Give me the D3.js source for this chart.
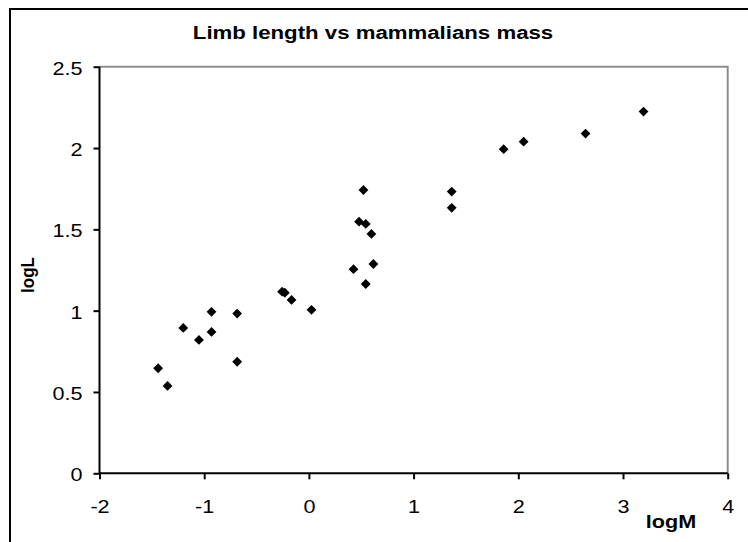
<!DOCTYPE html>
<html>
<head>
<meta charset="utf-8">
<script src="https://cdn.jsdelivr.net/npm/d3@7"></script>
<style>
  html, body { margin: 0; padding: 0; background: #fff; }
  svg { display: block; }
  text { font-family: "Liberation Sans", Arial, sans-serif; fill: #000; }
</style>
</head>
<body>
<svg id="chart" width="748" height="542"></svg>
<script>
// ---- data ----
const logM = [-1.44, -1.35, -1.20, -1.05, -0.93, -0.93, -0.685, -0.685, -0.256, -0.23, -0.166, 0.025,
              0.426, 0.479, 0.521, 0.543, 0.597, 0.616, 0.543, 1.364, 1.364, 1.86, 2.051, 2.642, 3.196];
const logL = [0.646, 0.537, 0.894, 0.820, 0.993, 0.869, 0.982, 0.686, 1.117, 1.11, 1.066, 1.005,
              1.255, 1.547, 1.742, 1.533, 1.472, 1.287, 1.164, 1.732, 1.632, 1.993, 2.039, 2.089, 2.224];
const xTicks = [-2, -1, 0, 1, 2, 3, 4];
const yTicks = [0, 0.5, 1, 1.5, 2, 2.5];
const titleText = "Limb length vs mammalians mass";
const xTitle = "logM";
const yTitle = "logL";

// ---- layout ----
const svg = d3.select("#chart");
const pLeft = 99.5, pRight = 727.7, pTop = 66.7, pBottom = 473.3;
const SX = 1.2; // horizontal text stretch seen in the reference

const x = d3.scaleLinear().domain([-2, 4]).range([pLeft, pRight]);
const y = d3.scaleLinear().domain([0, 2.5]).range([pBottom, pTop]);

// outer chart border (extends beyond the visible window on right/bottom)
svg.append("rect")
  .attr("x", 10).attr("y", 9).attr("width", 800).attr("height", 600)
  .attr("fill", "none").attr("stroke", "#000").attr("stroke-width", 2);

// plot area frame (top & right grey)
svg.append("path")
  .attr("d", `M${pLeft},${pTop}H${pRight}V${pBottom}`)
  .attr("fill", "none").attr("stroke", "#8c8c8c").attr("stroke-width", 2);

// axes
const xAxis = d3.axisBottom(x).tickValues(xTicks).tickSize(6).tickPadding(21)
  .tickFormat(d => String(d));
const yAxis = d3.axisLeft(y).tickValues(yTicks).tickSize(6).tickPadding(11)
  .tickFormat(d => String(d));

const gx = svg.append("g").attr("transform", `translate(0,${pBottom})`).call(xAxis);
const gy = svg.append("g").attr("transform", `translate(${pLeft},0)`).call(yAxis);

[gx, gy].forEach(g => {
  g.select(".domain").attr("stroke", "#000").attr("stroke-width", 2);
  g.selectAll(".tick line").attr("stroke", "#000").attr("stroke-width", 2);
  g.selectAll(".tick text")
    .attr("fill", "#000")
    .style("font-family", "'Liberation Sans', Arial, sans-serif")
    .style("font-size", "18px");
});
gx.select(".domain").attr("d", `M${pLeft},0H${pRight}`);
gy.select(".domain").attr("d", `M0,${pBottom}V${pTop}`);
gx.selectAll(".tick text").attr("transform", `scale(${SX},1)`);
gy.selectAll(".tick text")
  .attr("x", 0)
  .attr("dy", "0.42em")
  .attr("transform", `translate(-17,0) scale(${SX},1)`);

// points (diamonds)
const diamond = d3.symbol().type(d3.symbolSquare).size(48);
svg.append("g").selectAll("path")
  .data(logM.map((m, i) => [m, logL[i]]))
  .join("path")
  .attr("d", diamond)
  .attr("transform", d => `translate(${x(d[0])},${y(d[1])}) rotate(45)`)
  .attr("fill", "#000");

// title
svg.append("text")
  .attr("transform", `translate(373,39) scale(1.17,1)`)
  .attr("text-anchor", "middle")
  .style("font-weight", "bold").style("font-size", "19px")
  .text(titleText);

// axis titles
svg.append("text")
  .attr("transform", `translate(671,528) scale(${SX},1)`)
  .attr("text-anchor", "middle")
  .style("font-weight", "bold").style("font-size", "18px")
  .text(xTitle);

svg.append("text")
  .attr("transform", "translate(34,275) rotate(-90) scale(1,1.1)")
  .attr("text-anchor", "middle")
  .style("font-weight", "bold").style("font-size", "17px")
  .text(yTitle);
</script>
</body>
</html>
